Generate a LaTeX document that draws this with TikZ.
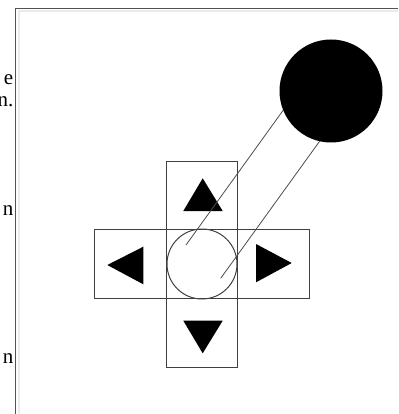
\documentclass[tikz,border=0pt]{standalone}
\usepackage{fontspec}
\setmainfont{Liberation Serif}
\begin{document}
\begin{tikzpicture}[x=1pt,y=-1pt,
  outline/.style={draw=black!75,line width=1pt},
  arrowtri/.style={fill=black},
  stick/.style={draw=black!70,line width=0.8pt},
  cuttext/.style={anchor=base east,inner sep=0pt,font=\fontsize{21}{24}\selectfont}]
\useasboundingbox (0,0) rectangle (398,414);
% frame of the screenshot
\draw[black!8,line width=1.5pt] (19,414) -- (19,11) -- (398,11);
\draw[black!68,line width=1.8pt] (15.5,414) -- (15.5,8.5) -- (398,8.5);
% cut-off text on the left
\node[cuttext] (t1) at (13.5,85) {e};
\node[cuttext] (t2) at (13.5,107) {n.};
\node[cuttext] (t3) at (13.5,215) {n};
\node[cuttext] (t4) at (13.5,363) {n};
% cross of boxes
\node[outline,minimum width=71pt,minimum height=206pt,inner sep=0pt] (vbox) at (201.5,264) {};
\node[outline,minimum width=215pt,minimum height=69pt,inner sep=0pt] (hbox) at (201.5,263.5) {};
\node[outline,circle,minimum size=70pt,inner sep=0pt] (knob) at (202,264) {};
% direction triangles
\fill[arrowtri] (202.7,178.3) -- (222.7,211) -- (183.3,211) -- cycle;
\fill[arrowtri] (202.7,353.3) -- (222.7,320.7) -- (183.3,320.7) -- cycle;
\fill[arrowtri] (107.3,265) -- (143.3,246.7) -- (143.3,284.3) -- cycle;
\fill[arrowtri] (291.7,263) -- (256,244) -- (256,282.3) -- cycle;
% stick
\coordinate (s1a) at (186,245);
\coordinate (s1b) at (288.4,103);
\coordinate (s2a) at (220.7,278.3);
\coordinate (s2b) at (323.1,136.4);
\draw[stick] (s1a) -- (s1b);
\draw[stick] (s2a) -- (s2b);
% ball
\node[circle,fill=black,minimum size=103pt,inner sep=0pt] (ball) at (331,91) {};
\end{tikzpicture}
\end{document}
